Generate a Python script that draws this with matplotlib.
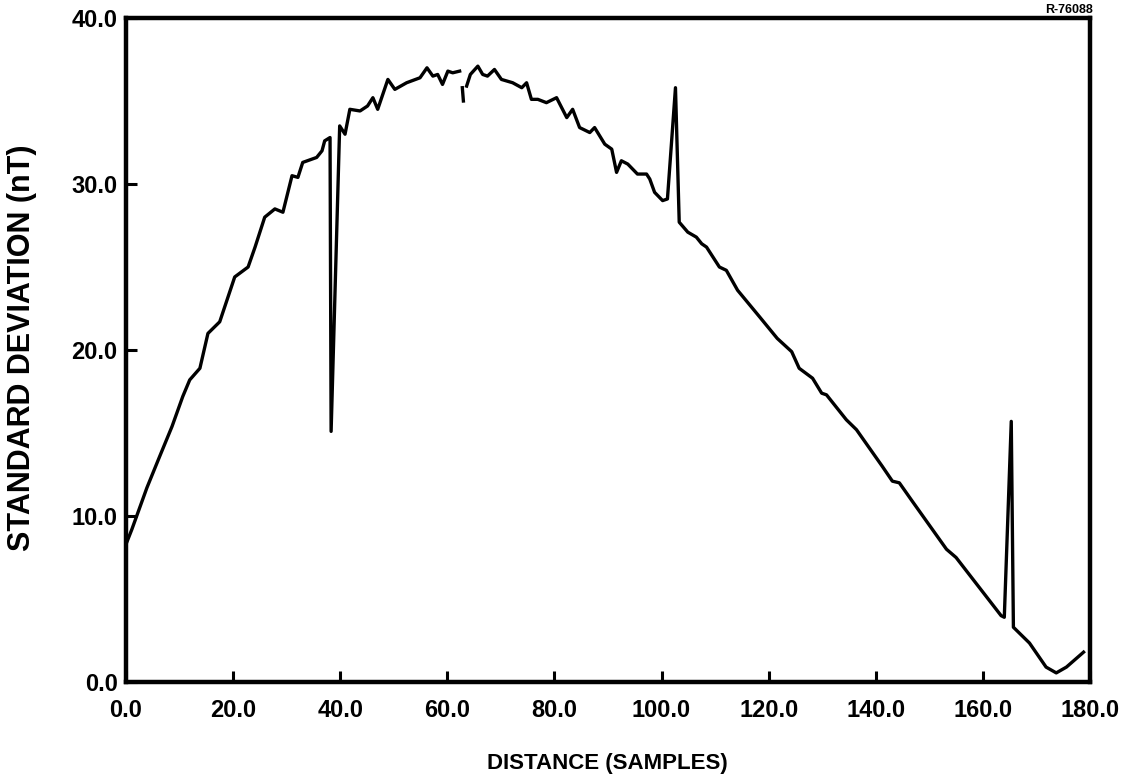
import numpy as np
import matplotlib
matplotlib.use('Agg')
import matplotlib.pyplot as plt

plt.rcParams['font.family'] = ['Liberation Sans', 'DejaVu Sans']
plt.rcParams['font.weight'] = 'bold'

nan = np.nan

# distance in samples (nan = gap in the trace)
distance = [0.0, 1.1, 3.9, 6.3, 8.6, 10.6, 11.9, 13.8, 15.3, 17.5,
            20.3, 22.8, 24.1, 25.9, 27.8, 29.3, 31.0, 32.1, 33.0, 35.6,
            36.6, 37.1, 38.1, 38.3, 39.9, 40.9, 41.8, 43.7, 45.1, 46.1,
            47.0, 48.9, 50.2, 52.4, 54.9, 56.2, 57.3, 58.2, 59.1, 60.1,
            61.0, 62.3, nan, 62.8, 63.0, nan, 63.6, 64.3, 65.7, 66.6,
            67.5, 68.8, 70.1, 72.2, 73.9, 74.8, 75.7, 76.9, 78.5, 80.4,
            82.3, 83.4, 84.7, 86.6, 87.5, 89.4, 90.7, 91.6, 92.5, 93.7,
            95.5, 97.2, 97.8, 98.7, 100.2, 101.1, 102.6, 103.3, 104.9, 106.5,
            107.5, 108.4, 110.8, 112.1, 114.2, 118.3, 121.6, 124.3, 125.7, 128.2,
            129.9, 130.8, 134.5, 136.4, 141.2, 143.1, 144.4, 146.8, 153.2, 155.0,
            163.4, 164.0, 165.3, 165.7, 168.7, 171.8, 173.7, 175.6, 178.8]

std_dev = [8.3, 9.2, 11.7, 13.6, 15.4, 17.2, 18.2, 18.9, 21.0, 21.7,
           24.4, 25.0, 26.2, 28.0, 28.5, 28.3, 30.5, 30.4, 31.3, 31.6,
           32.0, 32.6, 32.8, 15.1, 33.5, 33.0, 34.5, 34.4, 34.7, 35.2,
           34.5, 36.3, 35.7, 36.1, 36.4, 37.0, 36.5, 36.6, 36.0, 36.8,
           36.7, 36.8, nan, 35.8, 35.0, nan, 35.9, 36.6, 37.1, 36.6,
           36.5, 36.9, 36.3, 36.1, 35.8, 36.1, 35.1, 35.1, 34.9, 35.2,
           34.0, 34.5, 33.4, 33.1, 33.4, 32.4, 32.1, 30.7, 31.4, 31.2,
           30.6, 30.6, 30.3, 29.5, 29.0, 29.1, 35.8, 27.7, 27.1, 26.8,
           26.4, 26.2, 25.0, 24.8, 23.6, 22.0, 20.7, 19.9, 18.9, 18.3,
           17.4, 17.3, 15.8, 15.2, 13.0, 12.1, 12.0, 10.9, 8.0, 7.5,
           4.0, 3.9, 15.7, 3.3, 2.35, 0.9, 0.55, 0.9, 1.8]

x_ticks = [0, 20, 40, 60, 80, 100, 120, 140, 160, 180]
y_ticks = [0, 10, 20, 30, 40]

fig = plt.figure(figsize=(11.28, 7.76), dpi=100)
ax = fig.add_axes([0.1117, 0.1211, 0.8546, 0.8557])

ax.plot(distance, std_dev, color='black', linewidth=2.4)

ax.set_xlim(0, 180)
ax.set_ylim(0, 40)
ax.set_xticks(x_ticks)
ax.set_yticks(y_ticks)
ax.set_xticklabels(['%.1f' % t for t in x_ticks])
ax.set_yticklabels(['%.1f' % t for t in y_ticks])
ax.tick_params(direction='in', length=8, width=2.2, labelsize=17)
ax.tick_params(axis='x', pad=12)
ax.tick_params(axis='y', pad=6)
for lbl in ax.get_xticklabels() + ax.get_yticklabels():
    lbl.set_fontweight('bold')
for s in ax.spines.values():
    s.set_linewidth(3.2)

# axis titles
fig.text(607 / 1128, 1 - 763 / 776, 'DISTANCE (SAMPLES)', fontsize=16,
         fontweight='bold', ha='center', va='center')
fig.text(22 / 1128, 1 - 348 / 776, 'STANDARD DEVIATION (nT)', fontsize=22,
         fontweight='bold', ha='center', va='center', rotation=90)

fig.text(0.969, 0.995, 'R-76088', fontsize=9, fontweight='bold', ha='right', va='top')

fig.savefig('out.png', dpi=100)
